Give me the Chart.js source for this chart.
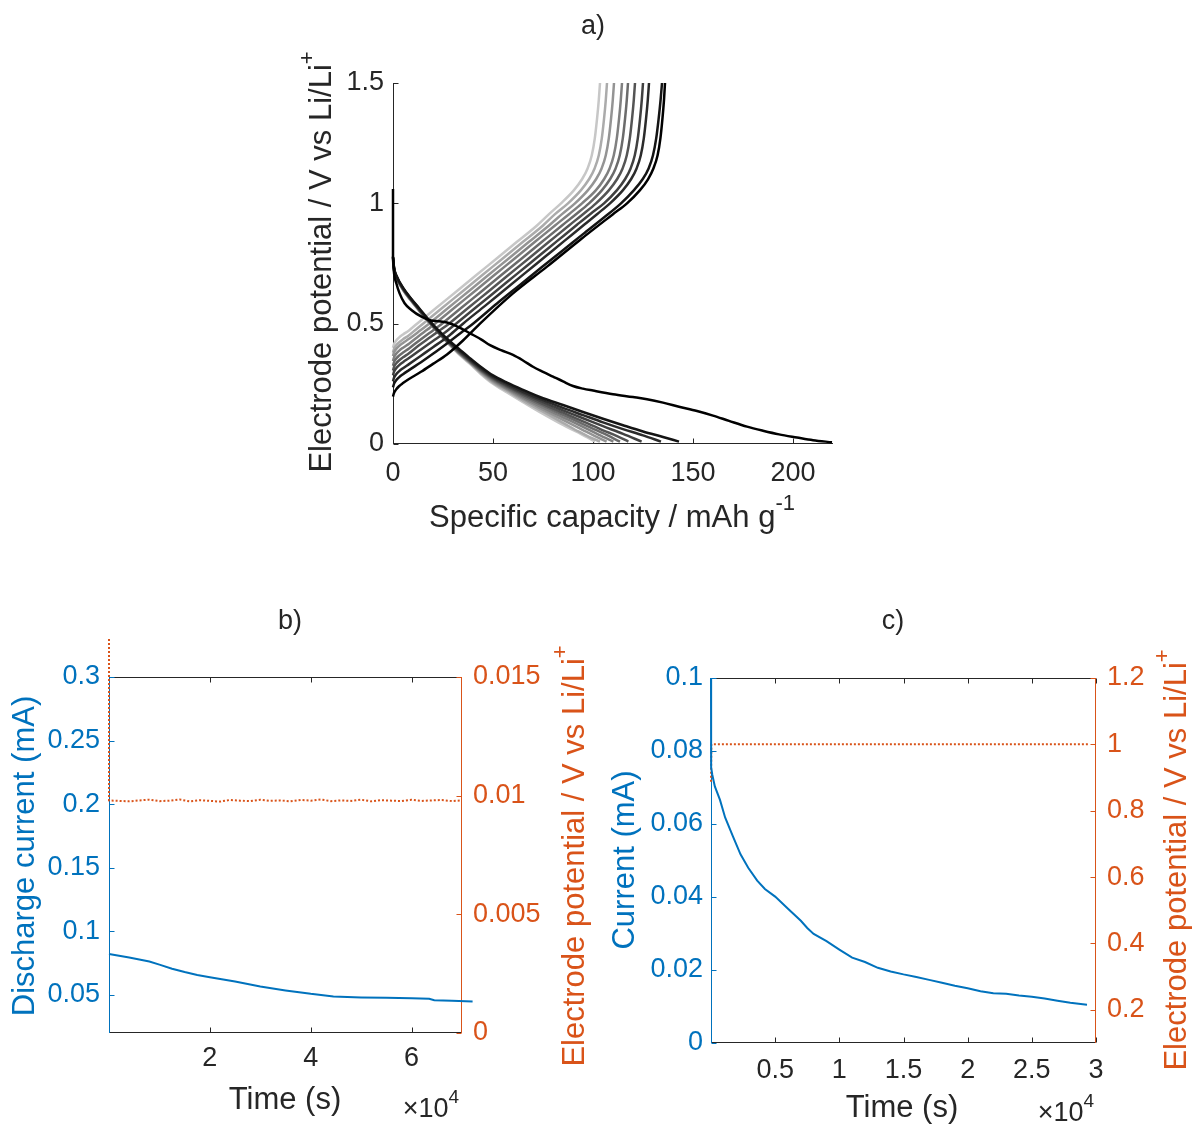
<!DOCTYPE html>
<html><head><meta charset="utf-8">
<script src="https://cdn.jsdelivr.net/npm/chart.js@4.4.1/dist/chart.umd.min.js"></script>
<style>
html,body{margin:0;padding:0;background:#fff;}
body{width:1192px;height:1125px;position:relative;overflow:hidden;}
canvas{position:absolute;left:0;top:0;}
</style></head><body>
<canvas id="ca" width="1192" height="1125"></canvas>
<canvas id="cb" width="1192" height="1125"></canvas>
<canvas id="cc" width="1192" height="1125"></canvas>
<script>
// ---------------- Panel a: galvanostatic cycles [capacity mAh/g, potential V] ----------------
const dis1 = [[0,1.06],[0,0.9],[0,0.78],[0.4,0.72],[1.7,0.667],[3.3,0.626],[5.8,0.585],[9.2,0.557],[14,0.53],[19,0.513],[23,0.51],[27,0.505],[33,0.485],[38.5,0.46],[44,0.435],[48.5,0.411],[54,0.39],[60,0.37],[65,0.347],[70,0.321],[75,0.3],[80,0.28],[85,0.26],[90,0.241],[95,0.23],[100,0.222],[110,0.207],[120,0.195],[127,0.186],[135,0.172],[143,0.155],[152,0.137],[160,0.118],[168,0.096],[177,0.072],[185,0.055],[193,0.04],[202,0.027],[210,0.016],[219.5,0.007]];
const dis2 = [[0,0.78],[0.5,0.735],[2,0.695],[5,0.65],[9,0.605],[13,0.565],[18,0.515],[23,0.47],[28,0.43],[33,0.395],[38,0.36],[44,0.32],[50,0.285],[57,0.255],[65,0.225],[75,0.19],[85,0.162],[95,0.133],[105,0.105],[115,0.078],[125,0.052],[135,0.029],[143,0.01]];
const dis3 = [[0,0.778],[0.5,0.733],[2,0.693],[5,0.648],[9,0.603],[13,0.562],[18,0.512],[23,0.466],[28,0.426],[33,0.39],[38,0.355],[44,0.315],[50,0.28],[57,0.249],[65,0.217],[75,0.182],[85,0.15],[95,0.12],[105,0.09],[115,0.062],[125,0.036],[134,0.01]];
const dis4 = [[0,0.776],[0.5,0.731],[2,0.691],[5,0.646],[9,0.601],[13,0.56],[18,0.51],[23,0.464],[28,0.423],[33,0.386],[38,0.351],[44,0.311],[50,0.276],[57,0.244],[65,0.211],[75,0.174],[85,0.14],[95,0.107],[105,0.074],[115,0.042],[124.3,0.01]];
const dis5 = [[0,0.774],[0.5,0.729],[2,0.69],[5,0.645],[9,0.6],[13,0.559],[18,0.509],[23,0.463],[28,0.421],[33,0.383],[38,0.348],[44,0.307],[50,0.272],[57,0.239],[65,0.205],[75,0.166],[85,0.13],[95,0.094],[105,0.057],[112,0.033],[117.7,0.01]];
const dis6 = [[0,0.772],[0.5,0.728],[2,0.689],[5,0.644],[9,0.599],[13,0.558],[18,0.508],[23,0.462],[28,0.42],[33,0.381],[38,0.346],[44,0.304],[50,0.268],[57,0.234],[65,0.199],[75,0.159],[85,0.121],[95,0.083],[105,0.045],[113.5,0.01]];
const dis7 = [[0,0.77],[0.5,0.726],[2,0.688],[5,0.643],[9,0.598],[13,0.557],[18,0.507],[23,0.461],[28,0.418],[33,0.379],[38,0.344],[44,0.301],[50,0.264],[57,0.23],[65,0.193],[75,0.151],[85,0.111],[95,0.071],[103,0.038],[110.2,0.01]];
const dis8 = [[0,0.767],[0.5,0.724],[2,0.687],[5,0.642],[9,0.597],[13,0.556],[18,0.506],[23,0.46],[28,0.417],[33,0.377],[38,0.342],[44,0.298],[50,0.26],[57,0.226],[65,0.187],[75,0.143],[85,0.1],[95,0.058],[101,0.033],[106.8,0.01]];
const dis9 = [[0,0.764],[0.5,0.722],[2,0.686],[5,0.641],[9,0.596],[13,0.555],[18,0.505],[23,0.459],[28,0.416],[33,0.376],[38,0.34],[44,0.294],[50,0.255],[57,0.22],[65,0.18],[75,0.134],[85,0.088],[93,0.051],[98,0.03],[103.5,0.01]];
const dis10 = [[0,0.76],[0.5,0.72],[2,0.685],[5,0.64],[9,0.595],[13,0.554],[18,0.504],[23,0.458],[28,0.414],[33,0.373],[38,0.336],[44,0.29],[50,0.25],[57,0.214],[65,0.174],[75,0.125],[85,0.079],[92,0.05],[97,0.028],[101,0.01]];

const chg1 = [[0,0.197],[0.5,0.212],[1.5,0.226],[3,0.24],[5,0.253],[8,0.27],[14,0.3],[20,0.333],[27,0.372],[35,0.43],[43.5,0.5],[60,0.626],[77,0.737],[93.5,0.848],[110,0.955],[117,1.0],[123.5,1.055],[127.5,1.1],[130.2,1.145],[132.3,1.2],[133.7,1.27],[134.7,1.35],[135.5,1.43],[136,1.5]];
const chg2 = [[0,0.235],[0.5,0.25],[1.5,0.264],[3,0.277],[5,0.29],[8,0.307],[14,0.34],[20,0.375],[27,0.418],[34,0.462],[40,0.5],[52,0.584],[63,0.658],[74,0.732],[85,0.805],[95,0.872],[105,0.938],[114,1.0],[120.5,1.055],[124.8,1.1],[127.8,1.145],[130,1.2],[131.6,1.27],[132.8,1.35],[133.8,1.43],[134.5,1.5]];
const chg3 = [[0,0.26],[0.5,0.275],[1.5,0.289],[3,0.302],[5,0.315],[8,0.332],[14,0.367],[20,0.402],[28,0.45],[35,0.5],[46,0.574],[56,0.642],[66,0.71],[76,0.778],[86,0.846],[96,0.914],[102,0.955],[108.5,1.0],[115,1.055],[119,1.1],[121.8,1.145],[123.9,1.2],[125.4,1.27],[126.5,1.35],[127.4,1.43],[128,1.5]];
const chg4 = [[0,0.285],[0.5,0.3],[1.5,0.314],[3,0.327],[5,0.34],[8,0.357],[14,0.393],[20,0.428],[26,0.463],[31.5,0.5],[42,0.571],[52,0.639],[62,0.707],[72,0.775],[82,0.843],[92,0.911],[99,0.958],[105.5,1.0],[112,1.055],[116,1.1],[118.8,1.145],[120.9,1.2],[122.4,1.27],[123.5,1.35],[124.4,1.43],[125,1.5]];
const chg5 = [[0,0.305],[0.5,0.32],[1.5,0.334],[3,0.347],[5,0.36],[8,0.377],[13,0.41],[18,0.44],[23,0.47],[28,0.5],[38,0.568],[48,0.636],[58,0.704],[68,0.772],[78,0.84],[88,0.908],[95,0.955],[101.5,1.0],[108,1.055],[112,1.1],[114.8,1.145],[116.9,1.2],[118.4,1.27],[119.5,1.35],[120.4,1.43],[121,1.5]];
const chg6 = [[0,0.325],[0.5,0.34],[1.5,0.354],[3,0.367],[5,0.38],[8,0.397],[12,0.423],[16,0.448],[20,0.472],[24.5,0.5],[34.5,0.568],[44.5,0.636],[54.5,0.704],[64.5,0.772],[74.5,0.84],[84.5,0.908],[91.5,0.955],[98,1.0],[104.5,1.055],[108.5,1.1],[111.3,1.145],[113.4,1.2],[114.9,1.27],[116,1.35],[116.9,1.43],[117.5,1.5]];
const chg7 = [[0,0.345],[0.5,0.36],[1.5,0.374],[3,0.387],[5,0.4],[8,0.417],[12,0.443],[16,0.468],[21,0.5],[31,0.568],[41,0.636],[51,0.704],[61,0.772],[71,0.84],[81,0.908],[88,0.955],[94.5,1.0],[101.5,1.055],[105.5,1.1],[108.3,1.145],[110.4,1.2],[111.9,1.27],[113,1.35],[113.9,1.43],[114.5,1.5]];
const chg8 = [[0,0.365],[0.5,0.38],[1.5,0.394],[3,0.407],[5,0.42],[8,0.437],[13,0.468],[18,0.5],[28,0.568],[38,0.636],[48,0.704],[58,0.772],[68,0.84],[78,0.908],[84.5,0.955],[91,1.0],[97.5,1.055],[101.5,1.1],[104.3,1.145],[106.4,1.2],[107.9,1.27],[109,1.35],[109.9,1.43],[110.5,1.5]];
const chg9 = [[0,0.38],[0.5,0.395],[1.5,0.409],[3,0.422],[5,0.435],[8,0.452],[11.5,0.476],[15,0.5],[25,0.568],[35,0.636],[45,0.704],[55,0.772],[65,0.84],[75,0.908],[81,0.955],[87.5,1.0],[94,1.055],[98,1.1],[100.8,1.145],[102.9,1.2],[104.4,1.27],[105.5,1.35],[106.4,1.43],[107,1.5]];
const chg10 = [[0,0.4],[0.5,0.415],[1.5,0.429],[3,0.442],[5,0.455],[8,0.472],[12,0.5],[22,0.568],[32,0.636],[42,0.704],[52,0.772],[62,0.84],[72,0.908],[78,0.955],[84,1.0],[90.5,1.055],[94.5,1.1],[97.3,1.145],[99.4,1.2],[100.9,1.27],[102,1.35],[102.9,1.43],[103.5,1.5]];

const cycleGrays = [0, 20, 43, 64, 84, 107, 128, 148, 171, 199];
const aXTicks = [0, 50, 100, 150, 200];
const aXLabels = ['0', '50', '100', '150', '200'];
const aYTicks = [0, 0.5, 1, 1.5];
const aYLabels = ['0', '0.5', '1', '1.5'];

// ---------------- Panel b: potentiostatic discharge at 0.01 V ----------------
const timeB = [0, 4000, 8000, 10000, 12500, 15000, 17500, 20000, 25000, 30000, 35000, 40000, 44500, 50000, 55000, 60000, 63500, 64500, 68000, 72100];
const currentB = [0.0822, 0.0793, 0.0762, 0.0738, 0.0706, 0.068, 0.0657, 0.0639, 0.0605, 0.0565, 0.0535, 0.0508, 0.0488, 0.048, 0.0477, 0.0474, 0.047, 0.0458, 0.0453, 0.0448];
const timeBV = [0, 0, 2000, 4000, 6000, 8000, 10000, 12000, 14000, 16000, 18000, 20000, 22000, 24000, 26000, 28000, 30000, 32000, 34000, 36000, 38000, 40000, 42000, 44000, 46000, 48000, 50000, 52000, 54000, 56000, 58000, 60000, 62000, 64000, 66000, 68000, 70000, 72100, 72100];
const potentialB = [0.0166, 0.0098, 0.00978, 0.00976, 0.0098, 0.00983, 0.00977, 0.00979, 0.00984, 0.00976, 0.00981, 0.00978, 0.00975, 0.00982, 0.00979, 0.00977, 0.00983, 0.00978, 0.0098, 0.00976, 0.00982, 0.00979, 0.00984, 0.00977, 0.0098, 0.00978, 0.00983, 0.00976, 0.00981, 0.00979, 0.00977, 0.00983, 0.00978, 0.0098, 0.00982, 0.00977, 0.0098, 0.00979, -0.008];
const bXTicks = [20000, 40000, 60000];
const bXLabels = ['2', '4', '6'];
const bYTicks = [0.05, 0.1, 0.15, 0.2, 0.25, 0.3];
const bYLabels = ['0.05', '0.1', '0.15', '0.2', '0.25', '0.3'];
const bY2Ticks = [0, 0.005, 0.01, 0.015];
const bY2Labels = ['0', '0.005', '0.01', '0.015'];

// ---------------- Panel c: potentiostatic hold at 1 V ----------------
const timeC = [0, 0, 20, 100, 300, 700, 1100, 1700, 2300, 2900, 3600, 4200, 5000, 6000, 7000, 7500, 8000, 9000, 10000, 11000, 12000, 13000, 14000, 15000, 16000, 17000, 18000, 19000, 20000, 21000, 22000, 23000, 24000, 25000, 26000, 27000, 28000, 29300];
const currentC = [0.1, 0.078, 0.0755, 0.0735, 0.0703, 0.0666, 0.0618, 0.0567, 0.0517, 0.048, 0.0445, 0.0422, 0.0401, 0.0368, 0.0335, 0.0315, 0.0299, 0.0279, 0.0256, 0.0234, 0.0222, 0.0206, 0.0196, 0.0188, 0.0181, 0.0173, 0.0165, 0.0157, 0.015, 0.0142, 0.0136, 0.0135, 0.013, 0.0127, 0.0122, 0.0116, 0.011, 0.0105];
const timeCV = [0, 30, 29500];
const potentialC = [0.887, 1.0, 1.0];
const cXTicks = [5000, 10000, 15000, 20000, 25000, 30000];
const cXLabels = ['0.5', '1', '1.5', '2', '2.5', '3'];
const cYTicks = [0, 0.02, 0.04, 0.06, 0.08, 0.1];
const cYLabels = ['0', '0.02', '0.04', '0.06', '0.08', '0.1'];
const cY2Ticks = [0.2, 0.4, 0.6, 0.8, 1, 1.2];
const cY2Labels = ['0.2', '0.4', '0.6', '0.8', '1', '1.2'];

// ---------------- rendering ----------------
const FONT = '"Liberation Sans", Arial, Helvetica, sans-serif';
const BLUE = '#0072BD', ORANGE = '#D95319', AXC = '#262626';
const TICK = 27, LAB = 31, TITLE = 27;
Chart.defaults.font.family = FONT;
Chart.defaults.font.size = TICK;
Chart.defaults.animation = false;

const pairs = a => a.map(p => ({x: p[0], y: p[1]}));
const zip = (xs, ys) => xs.map((x, i) => ({x, y: ys[i]}));
const gray = g => `rgb(${g},${g},${g})`;

function fixedTicks(vals) { return s => { s.ticks = vals.map(v => ({value: v})); }; }
function linAxis(o) {
  return {
    type: 'linear', position: o.pos, min: o.min, max: o.max,
    grid: {display: false, drawTicks: false, tickLength: 0}, border: {display: false},
    afterBuildTicks: fixedTicks(o.ticks),
    afterFit: s => { if (o.w != null) s.width = o.w; if (o.h != null) s.height = o.h; },
    ticks: {color: o.color, padding: o.pad, autoSkip: false, maxRotation: 0, font: {size: TICK},
      callback: (v, i) => o.labels[i]}
  };
}

function framePlugin(sides) {
  return {
    id: 'frame',
    beforeDatasetsDraw(chart) {
      const {ctx, chartArea: a} = chart;
      ctx.save();
      ctx.lineWidth = 1;
      const L = Math.round(a.left) + 0.5, R = Math.round(a.right) - 0.5, T = Math.round(a.top) + 0.5, B = Math.round(a.bottom) - 0.5;
      sides.forEach(sd => {
        ctx.strokeStyle = sd.color;
        ctx.beginPath();
        if (sd.side === 'left') { ctx.moveTo(L, T - 0.5); ctx.lineTo(L, B + 0.5); }
        if (sd.side === 'right') { ctx.moveTo(R, T - 0.5); ctx.lineTo(R, B + 0.5); }
        if (sd.side === 'top') { ctx.moveTo(L - 0.5, T); ctx.lineTo(R + 0.5, T); }
        if (sd.side === 'bottom') { ctx.moveTo(L - 0.5, B); ctx.lineTo(R + 0.5, B); }
        ctx.stroke();
        if (sd.scale) {
          const sc = chart.scales[sd.scale];
          const tl = sd.len || 5;
          ctx.beginPath();
          sc.ticks.forEach(t => {
            const p = Math.round(sc.getPixelForValue(t.value)) + 0.5;
            if (sd.side === 'left') { ctx.moveTo(L, p); ctx.lineTo(L + tl, p); }
            if (sd.side === 'right') { ctx.moveTo(R, p); ctx.lineTo(R - tl, p); }
            if (sd.side === 'top') { ctx.moveTo(p, T); ctx.lineTo(p, T + tl); }
            if (sd.side === 'bottom') { ctx.moveTo(p, B); ctx.lineTo(p, B - tl); }
          });
          ctx.stroke();
        }
      });
      ctx.restore();
    }
  };
}

function drawRich(ctx, it) {
  ctx.save();
  ctx.translate(it.x, it.y);
  if (it.rot) ctx.rotate(it.rot);
  const f = it.size || LAB, fs = Math.round(f * 0.7);
  const widths = [];
  let w = 0;
  it.parts.forEach(([t, s]) => { ctx.font = (s ? fs : f) + 'px ' + FONT; const m = ctx.measureText(t).width; widths.push(m); w += m; });
  let x = it.align === 'right' ? -w : (it.align === 'left' ? 0 : -w / 2);
  ctx.fillStyle = it.color || AXC;
  ctx.textBaseline = 'middle';
  ctx.textAlign = 'left';
  it.parts.forEach(([t, s], i) => {
    ctx.font = (s ? fs : f) + 'px ' + FONT;
    ctx.fillText(t, x, s ? -f * 0.45 : 0);
    x += widths[i];
  });
  ctx.restore();
}
function textPlugin(items) {
  return { id: 'texts', afterDraw(chart) { items.forEach(it => drawRich(chart.ctx, it)); } };
}

const potLabel = [['Electrode potential / V vs Li/Li', false], ['+', true]];
const UP = -Math.PI / 2;

// ----- chart a -----
const aSets = [];
const disAll = [dis1, dis2, dis3, dis4, dis5, dis6, dis7, dis8, dis9, dis10];
const chgAll = [chg1, chg2, chg3, chg4, chg5, chg6, chg7, chg8, chg9, chg10];
for (let k = 0; k < 10; k++) {
  [disAll[k], chgAll[k]].forEach(curve => aSets.push({
    data: pairs(curve), showLine: true, pointRadius: 0, borderWidth: 2.5,
    borderColor: gray(cycleGrays[k]), cubicInterpolationMode: 'monotone', clip: false
  }));
}
new Chart(document.getElementById('ca'), {
  type: 'scatter',
  data: {datasets: aSets},
  options: {
    responsive: false, devicePixelRatio: 1,
    layout: {padding: {left: 313, right: 359, top: 83, bottom: 621}},
    plugins: {legend: {display: false}, tooltip: {enabled: false}},
    scales: {
      x: linAxis({pos: 'bottom', min: 0, max: 220, ticks: aXTicks, labels: aXLabels, color: AXC, pad: 13, h: 60}),
      y: linAxis({pos: 'left', min: 0, max: 1.5, ticks: aYTicks, labels: aYLabels, color: AXC, pad: 9, w: 80})
    }
  },
  plugins: [framePlugin([{side: 'left', color: AXC, scale: 'y'}, {side: 'bottom', color: AXC, scale: 'x'}]),
    textPlugin([
      {x: 593, y: 27, size: TITLE, parts: [['a)', false]]},
      {x: 322, y: 262, rot: UP, parts: potLabel},
      {x: 612, y: 518, parts: [['Specific capacity / mAh g', false], ['-1', true]]}
    ])]
});

// ----- chart b -----
new Chart(document.getElementById('cb'), {
  type: 'scatter',
  data: {datasets: [
    {data: zip(timeB, currentB), yAxisID: 'y', showLine: true, pointRadius: 0, borderWidth: 2, borderColor: BLUE, clip: false},
    {data: zip(timeBV, potentialB), yAxisID: 'y2', showLine: true, pointRadius: 0, borderWidth: 2, borderColor: ORANGE, borderDash: [2, 2], clip: false}
  ]},
  options: {
    responsive: false, devicePixelRatio: 1,
    layout: {padding: {left: 29, right: 630, top: 677, bottom: 32}},
    plugins: {legend: {display: false}, tooltip: {enabled: false}},
    scales: {
      x: linAxis({pos: 'bottom', min: 0, max: 70000, ticks: bXTicks, labels: bXLabels, color: AXC, pad: 9, h: 60}),
      y: linAxis({pos: 'left', min: 0.02, max: 0.3, ticks: bYTicks, labels: bYLabels, color: BLUE, pad: 9, w: 80}),
      y2: linAxis({pos: 'right', min: 0, max: 0.015, ticks: bY2Ticks, labels: bY2Labels, color: ORANGE, pad: 11, w: 100})
    }
  },
  plugins: [framePlugin([{side: 'top', color: AXC, scale: 'x'}, {side: 'bottom', color: AXC, scale: 'x'},
      {side: 'left', color: BLUE, scale: 'y'}, {side: 'right', color: ORANGE, scale: 'y2'}]),
    textPlugin([
      {x: 290, y: 622, size: TITLE, parts: [['b)', false]]},
      {x: 25, y: 856, rot: UP, color: BLUE, parts: [['Discharge current (mA)', false]]},
      {x: 575, y: 856, rot: UP, color: ORANGE, parts: potLabel},
      {x: 285, y: 1100, parts: [['Time (s)', false]]},
      {x: 459, y: 1110, align: 'right', size: TICK, parts: [['\u00d710', false], ['4', true]]}
    ])]
});

// ----- chart c -----
new Chart(document.getElementById('cc'), {
  type: 'scatter',
  data: {datasets: [
    {data: zip(timeC, currentC), yAxisID: 'y', showLine: true, pointRadius: 0, borderWidth: 2, borderColor: BLUE, clip: false},
    {data: zip(timeCV, potentialC), yAxisID: 'y2', showLine: true, pointRadius: 0, borderWidth: 2, borderColor: ORANGE, borderDash: [2, 2], clip: false}
  ]},
  options: {
    responsive: false, devicePixelRatio: 1,
    layout: {padding: {left: 631, right: 36, top: 678, bottom: 22}},
    plugins: {legend: {display: false}, tooltip: {enabled: false}},
    scales: {
      x: linAxis({pos: 'bottom', min: 0, max: 30000, ticks: cXTicks, labels: cXLabels, color: AXC, pad: 11, h: 60}),
      y: linAxis({pos: 'left', min: 0, max: 0.1, ticks: cYTicks, labels: cYLabels, color: BLUE, pad: 8, w: 80}),
      y2: linAxis({pos: 'right', min: 0.1, max: 1.2, ticks: cY2Ticks, labels: cY2Labels, color: ORANGE, pad: 11, w: 60})
    }
  },
  plugins: [framePlugin([{side: 'top', color: AXC, scale: 'x'}, {side: 'bottom', color: AXC, scale: 'x'},
      {side: 'left', color: BLUE, scale: 'y'}, {side: 'right', color: ORANGE, scale: 'y2'}]),
    textPlugin([
      {x: 893, y: 622, size: TITLE, parts: [['c)', false]]},
      {x: 625, y: 860, rot: UP, color: BLUE, parts: [['Current (mA)', false]]},
      {x: 1177, y: 860, rot: UP, color: ORANGE, parts: potLabel},
      {x: 902, y: 1108, parts: [['Time (s)', false]]},
      {x: 1094, y: 1114, align: 'right', size: TICK, parts: [['\u00d710', false], ['4', true]]}
    ])]
});
</script>
</body></html>
